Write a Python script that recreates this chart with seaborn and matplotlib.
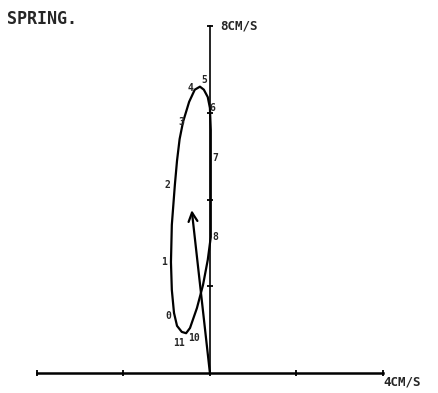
import numpy as np
import pandas as pd
import matplotlib
matplotlib.use('Agg')
import matplotlib.pyplot as plt
import seaborn as sns

# tidal current trace (cm/s), hour 0 -> 11 -> back to 0
trace_u = [-0.83, -0.88, -0.90, -0.88, -0.81, -0.76, -0.70, -0.62, -0.48, -0.35, -0.23,
           -0.14, -0.05, 0.00, 0.02, 0.02, 0.02, 0.02, -0.05, -0.16, -0.30,
           -0.46, -0.55, -0.65, -0.76, -0.83]
trace_v = [1.39, 1.92, 2.56, 3.42, 4.34, 4.90, 5.40, 5.80, 6.26, 6.54, 6.61,
           6.54, 6.37, 6.12, 5.61, 4.97, 4.00, 3.14, 2.61, 2.03, 1.50,
           1.04, 0.92, 0.95, 1.09, 1.39]

hours = ['0', '1', '2', '3', '4', '5', '6', '7', '8', '10', '11']
hour_u = [-0.83, -0.90, -0.81, -0.62, -0.35, -0.14, 0.00, 0.02, 0.02, -0.46, -0.65]
hour_v = [1.39, 2.56, 4.34, 5.80, 6.54, 6.54, 6.12, 4.97, 3.14, 1.04, 0.95]
# label offsets in points
label_dx = [-4, -5, -5, -1, -3, 0, 2, 3, 3, 3, -2]
label_dy = [-2, 0, 0, 0, 1, 7, 0, 0, 0, -7, -8]

# residual (mean) current
mean_u, mean_v = -0.42, 3.76

x_ticks = [-4, -2, 0, 2, 4]
y_ticks = [2, 4, 6, 8]

sns.set_style('white')
plt.rcParams['font.family'] = ['DejaVu Sans Mono', 'DejaVu Sans']

fig = plt.figure(figsize=(4.38, 3.93), dpi=100)
ax = fig.add_axes([0, 0, 1, 1])
ax.set_xlim(-4.85, 5.27)
ax.set_ylim(-0.46, 8.61)

df = pd.DataFrame({'u': trace_u, 'v': trace_v})
sns.lineplot(data=df, x='u', y='v', sort=False, estimator=None,
             color='black', linewidth=1.6, ax=ax)

ax.annotate('', xy=(mean_u, mean_v), xytext=(0, 0),
            arrowprops=dict(arrowstyle='->', color='black', lw=1.6,
                            mutation_scale=16, shrinkA=0, shrinkB=0))

for h, u, v, dx, dy in zip(hours, hour_u, hour_v, label_dx, label_dy):
    ax.annotate(h, (u, v), xytext=(dx, dy), textcoords='offset points',
                ha='center', va='center', fontsize=7, fontweight='bold')

# axes through the origin
for s in ['top', 'right']:
    ax.spines[s].set_visible(False)
ax.spines['left'].set_position(('data', 0))
ax.spines['bottom'].set_position(('data', 0))
ax.spines['bottom'].set_bounds(-4, 4)
ax.spines['left'].set_bounds(0, 8)
ax.spines['bottom'].set_linewidth(1.8)
ax.spines['left'].set_linewidth(1.2)
ax.spines['bottom'].set_color('black')
ax.spines['left'].set_color('black')
ax.set_xticks(x_ticks)
ax.set_yticks(y_ticks)
ax.set_xticklabels([])
ax.set_yticklabels([])
ax.tick_params(axis='x', bottom=True, direction='inout', length=5, width=1.3, color='black')
ax.tick_params(axis='y', left=True, direction='inout', length=5, width=1.3, color='black')
ax.set_xlabel('')
ax.set_ylabel('')
ax.patch.set_visible(False)

ax.text(0.25, 8, '8CM/S', fontsize=9, fontweight='bold', ha='left', va='center')
ax.text(4.0, -0.2, '4CM/S', fontsize=9, fontweight='bold', ha='left', va='center')
fig.text(7 / 438, 1 - 19 / 393, 'SPRING.', fontsize=12, fontweight='bold',
         ha='left', va='center')

fig.savefig('out.png', dpi=100)
